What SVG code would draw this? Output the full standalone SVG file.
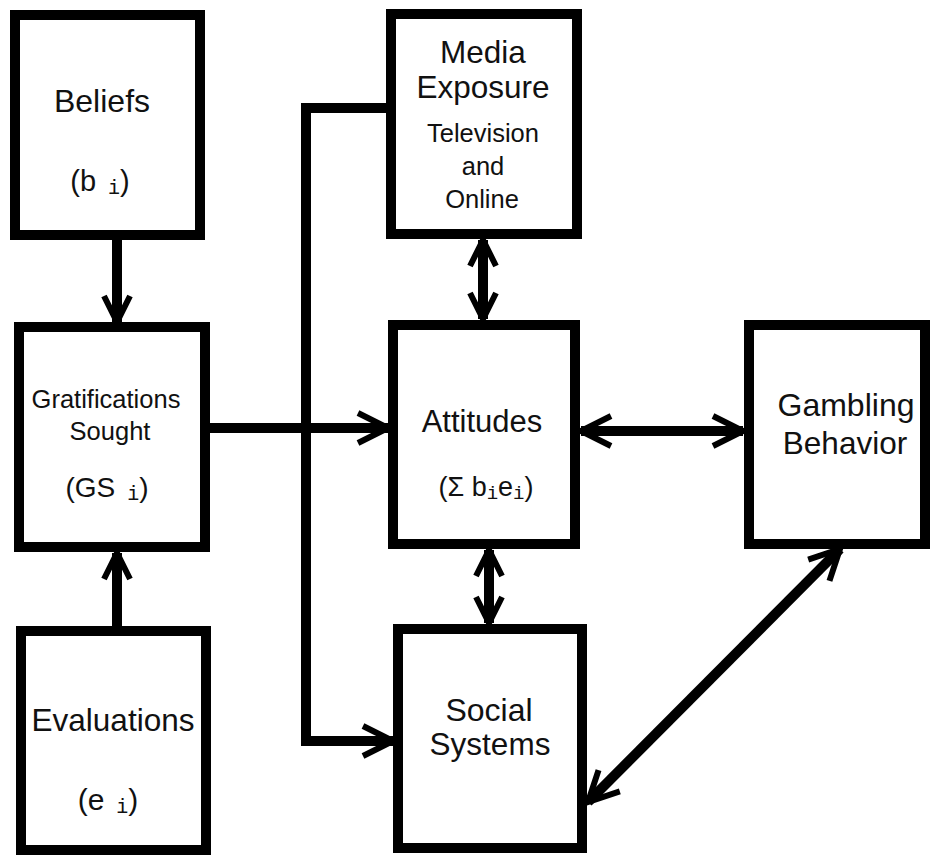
<svg xmlns="http://www.w3.org/2000/svg" width="935" height="857" viewBox="0 0 935 857">
<style>
.box{fill:#fff;stroke:#000;stroke-width:10;stroke-linejoin:miter}
.t{font-family:"Liberation Sans",Arial,sans-serif;fill:#111;text-anchor:middle}
.sub{font-family:"Liberation Mono","Courier New",monospace}
.c{fill:none;stroke:#000;stroke-width:10;stroke-linejoin:miter}
</style>
<defs>
<marker id="ah" markerUnits="userSpaceOnUse" viewBox="-40 -20 44 40" markerWidth="44" markerHeight="40" refX="0" refY="0" orient="auto-start-reverse" overflow="visible">
<path d="M-30,-15 L0,0 L-30,15" fill="none" stroke="#000" stroke-width="6"/>
</marker>
<marker id="ahs" markerUnits="userSpaceOnUse" viewBox="-40 -20 44 40" markerWidth="44" markerHeight="40" refX="0" refY="0" orient="auto-start-reverse" overflow="visible">
<path d="M-26,-13 L0,0 L-26,13" fill="none" stroke="#000" stroke-width="6"/>
</marker>
</defs>
<rect width="935" height="857" fill="#fff"/>
<g id="connectors">
<line class="c" x1="117" y1="240" x2="117" y2="322" marker-end="url(#ahs)"/>
<line class="c" x1="117" y1="626" x2="117" y2="553" marker-end="url(#ahs)"/>
<line class="c" x1="210" y1="428" x2="388" y2="428" marker-end="url(#ah)"/>
<path class="c" d="M386,108 H306 V741 H393" marker-end="url(#ah)"/>
<line class="c" x1="483" y1="240" x2="483" y2="319" marker-start="url(#ahs)" marker-end="url(#ahs)"/>
<line class="c" x1="489" y1="550" x2="489" y2="623" marker-start="url(#ahs)" marker-end="url(#ahs)"/>
<line class="c" x1="581" y1="431" x2="743" y2="431" marker-start="url(#ah)" marker-end="url(#ah)"/>
<line class="c" x1="840" y1="549" x2="588" y2="802" marker-start="url(#ah)" marker-end="url(#ah)"/>
</g>
<g id="beliefs">
<rect class="box" x="15" y="15" width="185" height="220"/>
<text class="t" x="102" y="112" font-size="32">Beliefs</text>
<text class="t" x="100" y="191" font-size="29">(b<tspan class="sub" font-size="20" dy="3"> i</tspan><tspan dy="-3">)</tspan></text>
</g>
<g id="gratifications">
<rect class="box" x="19" y="327" width="186" height="220"/>
<text class="t" x="106" y="408" font-size="25.5">Gratifications</text>
<text class="t" x="110" y="440" font-size="25.5">Sought</text>
<text class="t" x="107" y="497" font-size="28">(GS<tspan class="sub" font-size="20" dy="3"> i</tspan><tspan dy="-3">)</tspan></text>
</g>
<g id="evaluations">
<rect class="box" x="21" y="631" width="185" height="219"/>
<text class="t" x="113" y="731" font-size="31.5">Evaluations</text>
<text class="t" x="108" y="810" font-size="30">(e<tspan class="sub" font-size="20" dy="3"> i</tspan><tspan dy="-3">)</tspan></text>
</g>
<g id="media">
<rect class="box" x="391" y="14" width="186" height="220"/>
<text class="t" x="483" y="63" font-size="31.5">Media</text>
<text class="t" x="483" y="98" font-size="31.5">Exposure</text>
<text class="t" x="483" y="142" font-size="25.5">Television</text>
<text class="t" x="483" y="175" font-size="25.5">and</text>
<text class="t" x="482" y="208" font-size="25.5">Online</text>
</g>
<g id="attitudes">
<rect class="box" x="393" y="325" width="182" height="219"/>
<text class="t" x="482" y="432" font-size="31">Attitudes</text>
<text class="t" x="486" y="496" font-size="27">(Σ b<tspan class="sub" font-size="19" dy="3">i</tspan><tspan dy="-3">e</tspan><tspan class="sub" font-size="19" dy="3">i</tspan><tspan dy="-3">)</tspan></text>
</g>
<g id="gambling">
<rect class="box" x="749" y="325" width="176" height="219"/>
<text class="t" x="846" y="416" font-size="32">Gambling</text>
<text class="t" x="845" y="454" font-size="31.5">Behavior</text>
</g>
<g id="social">
<rect class="box" x="398" y="629" width="184" height="219"/>
<text class="t" x="489" y="721" font-size="32">Social</text>
<text class="t" x="490" y="755" font-size="31.5">Systems</text>
</g>
</svg>
